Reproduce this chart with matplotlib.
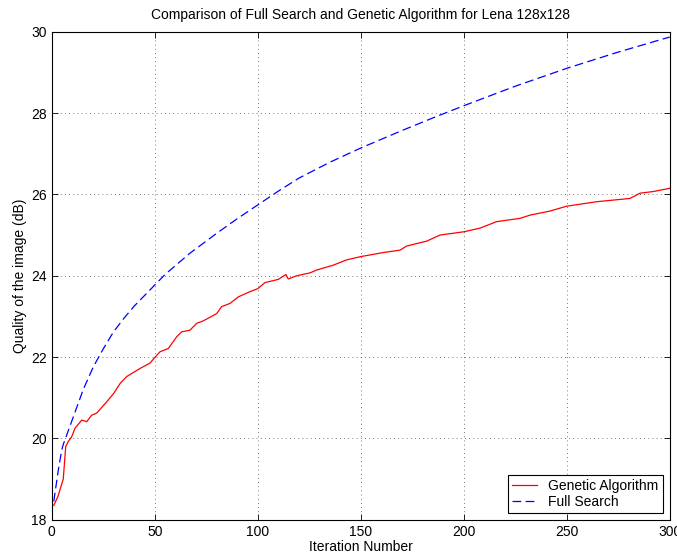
#!/usr/bin/env python3

# plot.py
# Full search vs genetic algorithm quality curve (Lena 128x128)

import matplotlib
matplotlib.use('Agg')
import matplotlib.pyplot as plt

# Genetic algorithm (red, solid)
ga_iter = [1, 3, 5, 5.6, 6.8, 8, 9.7, 11.3, 14.6, 17, 19.4, 21.8, 26.7, 30, 33.2,
           36.4, 42.9, 47.7, 50.2, 52.6, 56.6, 60.7, 63.1, 67.1, 70.4, 73.6, 80.1,
           82.5, 86.6, 90.6, 96.3, 100, 103.5, 110, 113.7, 114.8, 119, 125.4, 128.6,
           136.7, 143.2, 150, 161, 169.1, 172.3, 182, 188.5, 200, 207.9, 216, 227.3,
           232.2, 241.9, 250, 264.6, 280.7, 285.6, 292, 300]
ga_quality = [18.35, 18.57, 18.9, 19.0, 19.8, 19.92, 20.04, 20.25, 20.45, 20.41,
              20.57, 20.62, 20.9, 21.1, 21.35, 21.52, 21.72, 21.85, 22.0, 22.13,
              22.21, 22.5, 22.62, 22.66, 22.83, 22.89, 23.07, 23.24, 23.32, 23.48,
              23.61, 23.68, 23.83, 23.91, 24.03, 23.92, 24.0, 24.07, 24.14, 24.26,
              24.39, 24.47, 24.57, 24.63, 24.73, 24.85, 25.0, 25.08, 25.17, 25.33,
              25.41, 25.49, 25.59, 25.71, 25.82, 25.9, 26.03, 26.07, 26.15]

# Full search (blue, dashed)
fs_iter = [1, 3.2, 4.85, 5.6, 10.5, 15.3, 20.2, 25, 30, 35, 40, 47.7, 55, 67, 80,
           90, 100, 110, 120, 135, 150, 170, 185, 200, 225, 250, 275, 300]
fs_quality = [18.45, 19.22, 19.71, 19.85, 20.53, 21.2, 21.76, 22.2, 22.62, 22.95,
              23.25, 23.65, 24.03, 24.55, 25.04, 25.4, 25.74, 26.08, 26.4, 26.79,
              27.14, 27.57, 27.88, 28.18, 28.66, 29.1, 29.5, 29.87]

x_ticks = [0, 50, 100, 150, 200, 250, 300]
y_ticks = [18, 20, 22, 24, 26, 28, 30]

plt.rcParams['font.family'] = ['Liberation Sans', 'DejaVu Sans']

fig = plt.figure(figsize=(6.77, 5.57), dpi=100)
ax = fig.add_axes([0.0764, 0.067, 0.9128, 0.876])

ax.plot(ga_iter, ga_quality, '-', color='#ff0000', linewidth=0.9,
        label='Genetic Algorithm')
ax.plot(fs_iter, fs_quality, '--', color='#0000ff', linewidth=0.9,
        dashes=(7, 3.5), label='Full Search')

ax.set_xlim(0, 300)
ax.set_ylim(18, 30)
ax.set_xticks(x_ticks)
ax.set_yticks(y_ticks)
ax.tick_params(direction='in', top=True, right=True, labelsize=10,
               length=4, width=0.6)
ax.grid(True, linestyle=(0, (1, 4)), color='black', linewidth=0.6, alpha=0.7)
for s in ax.spines.values():
    s.set_linewidth(0.8)

ax.set_title('Comparison of Full Search and Genetic Algorithm for Lena 128x128',
             fontsize=10, pad=9)
ax.set_xlabel('Iteration Number', fontsize=10, labelpad=1)
ax.set_ylabel('Quality of the image (dB)', fontsize=10, labelpad=3)

leg = ax.legend(loc='lower right', fontsize=10, fancybox=False, framealpha=1,
                edgecolor='black', borderaxespad=0.5, handlelength=1.8,
                labelspacing=0.1, borderpad=0.3)
leg.get_frame().set_linewidth(0.8)

plt.savefig('out.png', dpi=100)
